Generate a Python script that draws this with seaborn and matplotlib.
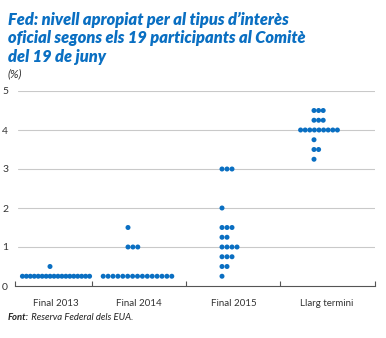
import matplotlib
matplotlib.use("Agg")
import matplotlib.pyplot as plt
import seaborn as sns
import pandas as pd

# ---- data ----
categories = ["Final 2013", "Final 2014", "Final 2015", "Llarg termini"]
levels_2013 = [0.25, 0.5]
counts_2013 = [18, 1]
levels_2014 = [0.25, 1.0, 1.5]
counts_2014 = [15, 3, 1]
levels_2015 = [0.25, 0.5, 0.75, 1.0, 1.25, 1.5, 2.0, 3.0]
counts_2015 = [1, 2, 3, 4, 2, 3, 1, 3]
levels_lr = [3.25, 3.5, 3.75, 4.0, 4.25, 4.5]
counts_lr = [1, 2, 1, 9, 3, 3]
y_ticks = [0, 1, 2, 3, 4, 5]

title_lines = ["Fed: nivell apropiat per al tipus d\u2019interès",
               "oficial segons els 19 participants al Comitè",
               "del 19 de juny"]
unit_label = "(%)"
source_bold = "Font:"
source_text = " Reserva Federal dels EUA."

# ---- layout (styling, in axis units = pixels) ----
blue = "#0a6fc2"
cat_center = [56, 139, 233.5, 327]
long_center = [56, 137.5, 233.5, 319]
short_anchor = [50, 128, 222, 314]
spacing = [3.95, 4.9, 5.0, 4.6]
boundaries = [15, 92, 186, 280, 375]

series = [(levels_2013, counts_2013), (levels_2014, counts_2014),
          (levels_2015, counts_2015), (levels_lr, counts_lr)]
rows = []
for ci, (lv, cn) in enumerate(series):
    for level, n in zip(lv, cn):
        if n >= 5:
            start = long_center[ci] - (n - 1) * spacing[ci] / 2
        else:
            start = short_anchor[ci]
        for k in range(n):
            rows.append({"cat": categories[ci], "x": start + k * spacing[ci], "rate": level})
df = pd.DataFrame(rows)

sns.set_theme(style="white")
plt.rcParams["font.family"] = ["Lato", "DejaVu Sans"]

fig = plt.figure(figsize=(3.86, 3.38), dpi=100)
ax = fig.add_axes([15 / 386, 52 / 338, 360 / 386, 195 / 338])

for y in y_ticks[1:]:
    ax.axhline(y, xmin=3 / 360, xmax=1, color="#c9c9c9", lw=0.8, zorder=0)

sns.scatterplot(data=df, x="x", y="rate", ax=ax, color=blue, s=13,
                edgecolor="none", legend=False, zorder=3, clip_on=False)

ax.set_xlim(15, 375)
ax.set_ylim(0, 5)
for s in ["top", "right", "left"]:
    ax.spines[s].set_visible(False)
ax.spines["bottom"].set_color("#555555")
ax.spines["bottom"].set_linewidth(0.8)

ax.set_xticks(boundaries)
ax.set_xticklabels([""] * len(boundaries))
ax.tick_params(axis="x", which="major", direction="in", length=3.5, width=0.8,
               color="#555555", bottom=True)
ax.set_xticks(cat_center, minor=True)
ax.set_xticklabels(categories, minor=True)
ax.tick_params(axis="x", which="minor", length=0, pad=9, labelsize=7,
               labelcolor="#333333")

ax.set_yticks(y_ticks)
ax.set_yticklabels([str(v) for v in y_ticks])
ax.tick_params(axis="y", length=0, pad=5, labelsize=7.5, labelcolor="#333333")
ax.set_xlabel("")
ax.set_ylabel("")

W, H = 386, 338
baselines = [25, 43.5, 62]
for line, b in zip(title_lines, baselines):
    fig.text(8 / W, 1 - b / H, line, color=blue, fontsize=11.8,
             fontweight="heavy", fontstyle="italic", va="baseline", ha="left")
fig.text(8 / W, 1 - 77 / H, unit_label, color="#333333", fontsize=8.3,
         fontstyle="italic", va="baseline", ha="left")

t1 = fig.text(8 / W, 1 - 320 / H, source_bold, color="#222222", fontsize=6.8,
              fontweight="bold", fontstyle="italic", va="baseline", ha="left")
fig.canvas.draw()
bb = t1.get_window_extent()
fig.text(bb.x1 / W, 1 - 320 / H, source_text, color="#222222", fontsize=6.8,
         fontstyle="italic", va="baseline", ha="left")

fig.savefig("out.png", dpi=100)
